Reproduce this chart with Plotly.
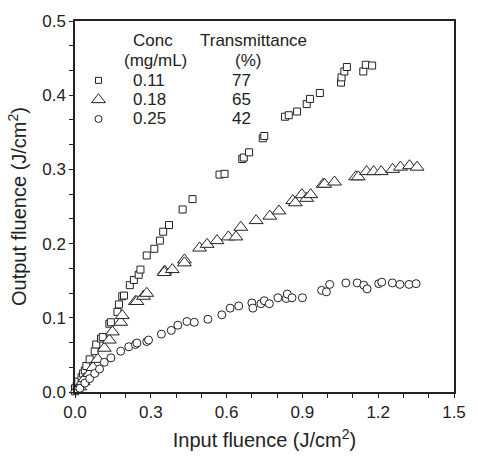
import plotly.graph_objects as go

# ---- data (Input fluence, Output fluence in J/cm^2) ----
sq_x = [0.0, 0.0, 0.007, 0.013, 0.026, 0.032, 0.039, 0.045, 0.058, 0.078, 0.084, 0.103, 0.110,
        0.136, 0.142, 0.168, 0.174, 0.187, 0.194, 0.217, 0.233, 0.252, 0.259, 0.284, 0.314,
        0.336, 0.349, 0.372, 0.426, 0.465, 0.572, 0.592, 0.662, 0.668, 0.689, 0.743, 0.749,
        0.831, 0.846, 0.879, 0.917, 0.930, 0.969, 1.053, 1.055, 1.066, 1.076, 1.141, 1.151, 1.176]
sq_y = [0.001, 0.005, 0.009, 0.014, 0.020, 0.025, 0.029, 0.035, 0.044, 0.055, 0.064, 0.072, 0.074,
        0.092, 0.094, 0.108, 0.118, 0.129, 0.130, 0.144, 0.151, 0.158, 0.165, 0.184, 0.193,
        0.204, 0.216, 0.225, 0.246, 0.260, 0.293, 0.294, 0.314, 0.316, 0.323, 0.342, 0.345,
        0.371, 0.373, 0.378, 0.388, 0.395, 0.403, 0.417, 0.424, 0.432, 0.438, 0.432, 0.441, 0.440]

tri_x = [0.007, 0.019, 0.032, 0.039, 0.058, 0.071, 0.090, 0.116, 0.136, 0.148, 0.181, 0.187,
         0.239, 0.245, 0.271, 0.284, 0.355, 0.353, 0.385, 0.433, 0.433, 0.493, 0.523, 0.562,
         0.607, 0.637, 0.656, 0.717, 0.771, 0.807, 0.862, 0.872, 0.898, 0.917, 0.933, 0.982,
         0.988, 1.027, 1.111, 1.121, 1.154, 1.182, 1.212, 1.257, 1.288, 1.324, 1.354]
tri_y = [0.003, 0.007, 0.014, 0.018, 0.025, 0.033, 0.044, 0.059, 0.070, 0.081, 0.094, 0.103,
         0.122, 0.122, 0.129, 0.133, 0.163, 0.161, 0.165, 0.178, 0.174, 0.194, 0.199, 0.204,
         0.209, 0.209, 0.222, 0.231, 0.237, 0.244, 0.258, 0.255, 0.266, 0.261, 0.266, 0.280,
         0.280, 0.283, 0.290, 0.290, 0.297, 0.297, 0.297, 0.300, 0.303, 0.305, 0.303]

cir_x = [0.019, 0.039, 0.058, 0.078, 0.097, 0.116, 0.142, 0.181, 0.213, 0.239, 0.245, 0.284,
         0.291, 0.342, 0.381, 0.407, 0.443, 0.472, 0.526, 0.581, 0.614, 0.648, 0.700, 0.704,
         0.736, 0.749, 0.769, 0.803, 0.836, 0.840, 0.859, 0.900, 0.976, 0.995, 1.008, 1.072,
         1.117, 1.143, 1.156, 1.202, 1.214, 1.256, 1.286, 1.322, 1.350]
cir_y = [0.005, 0.012, 0.018, 0.025, 0.031, 0.040, 0.046, 0.055, 0.061, 0.064, 0.066, 0.068,
         0.070, 0.078, 0.083, 0.090, 0.095, 0.094, 0.098, 0.104, 0.113, 0.116, 0.120, 0.113,
         0.119, 0.123, 0.119, 0.127, 0.126, 0.132, 0.127, 0.127, 0.137, 0.135, 0.145, 0.147,
         0.147, 0.144, 0.139, 0.146, 0.148, 0.147, 0.145, 0.145, 0.146]

conc = ["0.11", "0.18", "0.25"]
transmittance = ["77", "65", "42"]
symbols = ["square", "triangle-up", "circle"]
sizes = [7, 12, 8]
legend_sizes = [6, 12, 7]

x_ticks = [0.0, 0.3, 0.6, 0.9, 1.2, 1.5]
y_ticks = [0.0, 0.1, 0.2, 0.3, 0.4, 0.5]

# legend layout (data coordinates)
leg_sym_x = 0.093
leg_conc_x = 0.221
leg_trans_x = 0.612
leg_rows_y = [0.420, 0.394, 0.368]

FONT = "Liberation Sans, Arial, Helvetica, sans-serif"
INK = "#222222"

fig = go.Figure()
series = [(sq_x, sq_y), (tri_x, tri_y), (cir_x, cir_y)]
for (xs, ys), sym, sz in zip(series, symbols, sizes):
    fig.add_trace(go.Scatter(
        x=xs, y=ys, mode="markers", showlegend=False,
        marker=dict(symbol=sym, size=sz, color="white",
                    line=dict(color=INK, width=1)),
        cliponaxis=False))

# legend symbols
for sym, sz, yy in zip(symbols, legend_sizes, leg_rows_y):
    fig.add_trace(go.Scatter(
        x=[leg_sym_x], y=[yy], mode="markers", showlegend=False,
        marker=dict(symbol=sym, size=sz, color="white",
                    line=dict(color=INK, width=1))))

ann = []
def txt(x, y, s, xanchor="center"):
    ann.append(dict(x=x, y=y, xref="x", yref="y", text=s, showarrow=False,
                    xanchor=xanchor, yanchor="middle",
                    font=dict(family=FONT, size=17, color=INK)))

txt(0.31, 0.474, "Conc")
txt(0.318, 0.447, "(mg/mL)")
txt(0.705, 0.474, "Transmittance")
txt(0.686, 0.447, "(%)")
for c, t, yy in zip(conc, transmittance, leg_rows_y):
    txt(leg_conc_x, yy, c, "left")
    txt(leg_trans_x, yy, t, "left")

axis_common = dict(
    showgrid=False, zeroline=False, showline=True, linecolor=INK, linewidth=1.5,
    mirror=True, ticks="outside", ticklen=4, tickwidth=1, tickcolor=INK,
    tickfont=dict(family=FONT, size=17, color=INK),
)

fig.update_layout(
    width=478, height=460,
    margin=dict(l=75, r=16, t=19, b=56),
    paper_bgcolor="white", plot_bgcolor="white",
    annotations=ann,
    xaxis=dict(range=[0, 1.5], tickvals=x_ticks, tickformat=".1f",
               minor=dict(dtick=0.1, ticks="outside", ticklen=4, tickcolor=INK),
               title=dict(text="Input fluence (J/cm<sup>2</sup>)", standoff=12,
                          font=dict(family=FONT, size=20, color=INK)),
               **axis_common),
    yaxis=dict(range=[0, 0.5], tickvals=y_ticks, tickformat=".1f",
               minor=dict(dtick=0.1 / 3, ticks="outside", ticklen=4, tickcolor=INK),
               title=dict(text="Output fluence (J/cm<sup>2</sup>)", standoff=10,
                          font=dict(family=FONT, size=20, color=INK)),
               **axis_common),
)

fig.write_html("out.html")
